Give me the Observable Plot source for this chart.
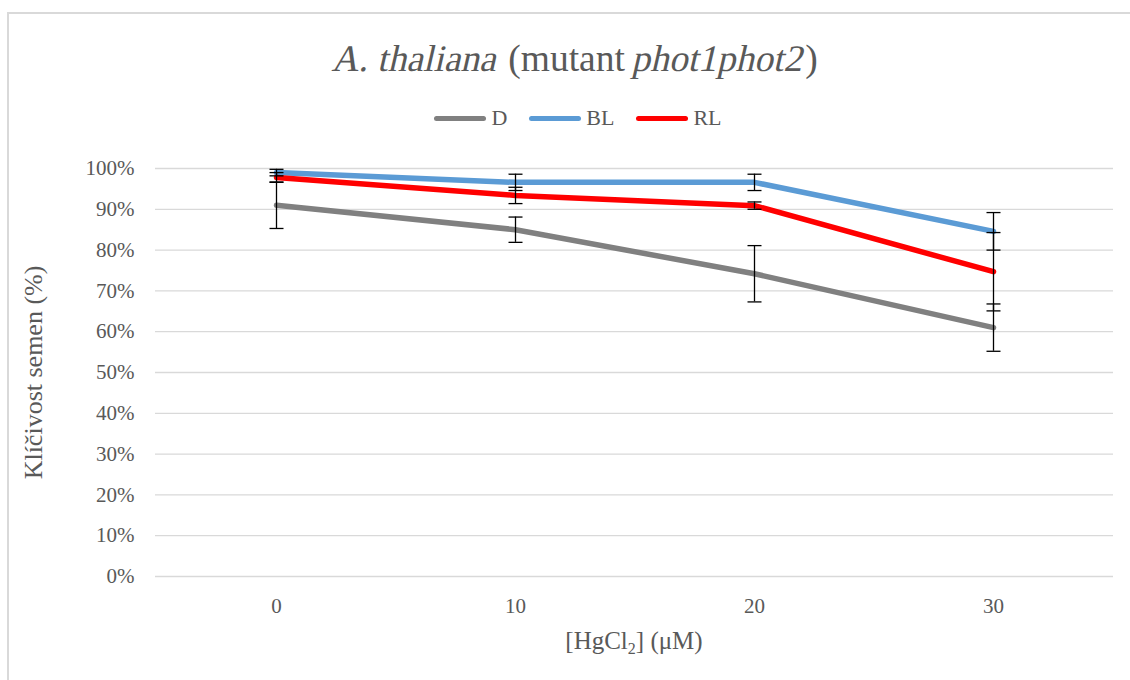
<!DOCTYPE html>
<html>
<head>
<meta charset="utf-8">
<script src="https://cdn.jsdelivr.net/npm/d3@7"></script>
<script src="https://cdn.jsdelivr.net/npm/@observablehq/plot@0.6"></script>
<style>
  html, body { margin: 0; padding: 0; background: #fff; }
  #wrap { position: relative; width: 1130px; height: 680px; overflow: hidden; font-family: "Liberation Serif", serif; color: #595959; }
  #border { position: absolute; left: 7px; top: 12px; width: 1200px; height: 800px; border-top: 2px solid #d9d9d9; border-left: 2px solid #d9d9d9; }
  #title { position: absolute; left: 0; width: 1152px; top: 40px; text-align: center; font-size: 37.5px; line-height: 37.5px; white-space: nowrap; }
  #title .it { display: inline-block; font-style: normal; transform: skewX(-13deg); }
  #legend { position: absolute; left: 0; width: 1156px; top: 106px; height: 24px; display: flex; justify-content: center; align-items: center; font-size: 22px; }
  .item { display: flex; align-items: center; margin: 0 11px; }
  .sw { width: 52px; height: 5px; border-radius: 3px; margin-right: 5px; }
  #chart { position: absolute; left: 0; top: 140px; }
  #chart svg, #chart svg text { font-family: "Liberation Serif", serif !important; }
  #xlabel { position: absolute; left: 0; width: 1268px; top: 628px; text-align: center; font-size: 25px; line-height: 25px; white-space: nowrap; }
  #xlabel sub { font-size: 16px; vertical-align: -5px; line-height: 0; }
</style>
</head>
<body>
<div id="wrap">
  <div id="border"></div>
  <div id="title"><span class="it">A. thaliana</span> (mutant <span class="it">phot1phot2</span>)</div>
  <div id="legend"></div>
  <div id="chart"></div>
  <div id="xlabel">[HgCl<sub>2</sub>] (μM)</div>
</div>
<script>
// ---- data ----
const concentrations = [0, 10, 20, 30];
const seriesNames = ["D", "BL", "RL"];
const seriesColors = ["#808080", "#5b9bd5", "#ff0000"];
const dMean  = [91.0, 85.0, 74.2, 61.0];
const dErr   = [5.7, 3.1, 6.9, 5.8];
const blMean = [99.0, 96.6, 96.6, 84.6];
const blErr  = [0.8, 2.0, 2.0, 4.6];
const rlMean = [97.8, 93.4, 90.9, 74.7];
const rlErr  = [1.2, 2.0, 0.9, 9.6];
const yTicks = [0, 10, 20, 30, 40, 50, 60, 70, 80, 90, 100];
const yLabel = "Klíčivost semen (%)";

const means = [dMean, blMean, rlMean];
const errs = [dErr, blErr, rlErr];
const rows = [];
seriesNames.forEach((s, i) => {
  concentrations.forEach((c, j) => {
    rows.push({series: s, x: c, y: means[i][j], lo: means[i][j] - errs[i][j], hi: means[i][j] + errs[i][j]});
  });
});

// legend
const legend = document.getElementById("legend");
seriesNames.forEach((s, i) => {
  const it = document.createElement("div");
  it.className = "item";
  it.innerHTML = `<span class="sw" style="background:${seriesColors[i]}"></span><span>${s}</span>`;
  legend.appendChild(it);
});

const capSymbol = {
  draw(context, size) {
    const r = Math.sqrt(size / Math.PI);
    context.moveTo(-r, 0);
    context.lineTo(r, 0);
  }
};

const FF = "Liberation Serif";
const chart = Plot.plot({
  width: 1130,
  height: 480,
  marginTop: 28,
  marginBottom: 44,
  marginLeft: 155,
  marginRight: 17,
  style: {fontFamily: FF, fontSize: "21px", color: "#595959", background: "transparent"},
  x: {type: "point", domain: concentrations, padding: 0.5},
  y: {domain: [0, 100]},
  color: {domain: seriesNames, range: seriesColors},
  marks: [
    Plot.gridY(yTicks, {stroke: "#d9d9d9", strokeOpacity: 1, strokeWidth: 1.3}),
    Plot.axisY(yTicks, {tickSize: 0, tickPadding: 21, tickFormat: d => d + "%", label: null, fill: "#595959", fontSize: 21, fontFamily: FF}),
    Plot.axisX(concentrations, {tickSize: 0, tickPadding: 22, label: null, fill: "#595959", fontSize: 21, fontFamily: FF}),
    Plot.text([yLabel], {frameAnchor: "left", textAnchor: "middle", lineAnchor: "middle", rotate: -90, dx: -122, fontSize: 26, fill: "#595959", fontFamily: FF}),
    Plot.line(rows, {x: "x", y: "y", z: "series", stroke: "series", strokeWidth: 5.5, strokeLinecap: "round", strokeLinejoin: "round"}),
    Plot.ruleX(rows, {x: "x", y1: "lo", y2: "hi", stroke: "black", strokeWidth: 1.3}),
    Plot.dot(rows, {x: "x", y: "lo", symbol: capSymbol, r: 7, stroke: "black", strokeWidth: 1.3, fill: "none"}),
    Plot.dot(rows, {x: "x", y: "hi", symbol: capSymbol, r: 7, stroke: "black", strokeWidth: 1.3, fill: "none"})
  ]
});
document.getElementById("chart").appendChild(chart);
</script>
</body>
</html>
